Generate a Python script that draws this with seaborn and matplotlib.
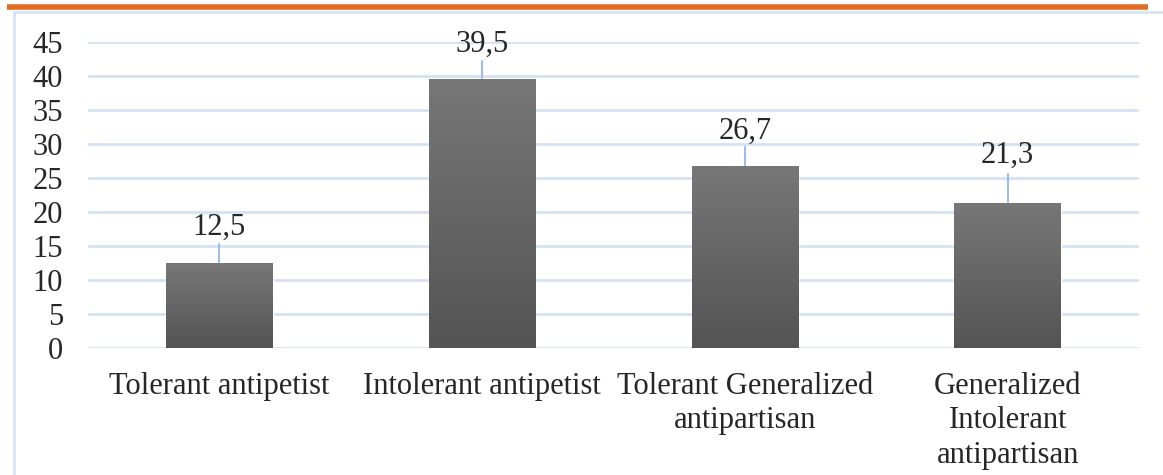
import numpy as np
import pandas as pd
import matplotlib
matplotlib.use("Agg")
import matplotlib.pyplot as plt
import seaborn as sns
from matplotlib.lines import Line2D

# data
categories = ["Tolerant antipetist", "Intolerant antipetist",
              "Tolerant Generalized\nantipartisan",
              "Generalized\nIntolerant\nantipartisan"]
values = [12.5, 39.5, 26.7, 21.3]
value_labels = ["12,5", "39,5", "26,7", "21,3"]
y_ticks = [0, 5, 10, 15, 20, 25, 30, 35, 40, 45]

# leader line length and label gap above the bar (data units)
leader_len = [2.8, 2.7, 2.8, 4.3]
label_gap = [4.1, 4.1, 4.0, 5.9]

df = pd.DataFrame({"cat": categories, "val": values})

sns.set_style("white")
plt.rcParams["font.family"] = ["Liberation Serif", "DejaVu Serif"]

grid_col = "#d5e1f3"
text_col = "#262626"
fs = 22

fig = plt.figure(figsize=(11.63, 4.75), dpi=100)
ax = fig.add_axes([88 / 1163, 1 - 348 / 475, (1139 - 88) / 1163, (348 - 42) / 475])

sns.barplot(data=df, x="cat", y="val", color="#606060", width=0.405, ax=ax,
            saturation=1, zorder=3)

ax.set_ylim(0, 45)
ax.set_xlim(-0.5, 3.5)
ax.set_yticks(y_ticks)
ax.set_yticklabels([str(t) for t in y_ticks])
ax.yaxis.grid(True, color=grid_col, linewidth=2, zorder=0)
ax.set_axisbelow(True)
for s in ax.spines.values():
    s.set_visible(False)
ax.tick_params(axis="both", length=0, labelsize=fs, colors=text_col)
ax.tick_params(axis="y", pad=18)
ax.tick_params(axis="x", pad=17)
ax.set_xlabel("")
ax.set_ylabel("")
for lbl in ax.get_xticklabels():
    lbl.set_linespacing(1.25)

# vertical gradient fill on the bars
grad = np.linspace(0, 1, 256).reshape(-1, 1)
cmap = matplotlib.colors.LinearSegmentedColormap.from_list("g", ["#545454", "#777777"])
for p in ax.patches:
    x0, y0 = p.get_x(), p.get_y()
    w, h = p.get_width(), p.get_height()
    im = ax.imshow(grad, extent=[x0, x0 + w, y0, y0 + h], origin="lower",
                   aspect="auto", cmap=cmap, zorder=4)
    im.set_clip_path(p)
ax.set_xlim(-0.5, 3.5)
ax.set_ylim(0, 45)

# data labels with leader lines
for i, v in enumerate(values):
    ax.plot([i, i], [v, v + leader_len[i]], color="#9dbde6", linewidth=1.5, zorder=2)
    ax.text(i, v + label_gap[i], value_labels[i], ha="center", va="baseline",
            fontsize=fs, color=text_col)

# orange rule and chart frame on the page
fig.add_artist(Line2D([7 / 1163, 1148 / 1163], [1 - 6.5 / 475, 1 - 6.5 / 475],
                      color="#e36c24", linewidth=4, solid_capstyle="butt"))
fig.add_artist(Line2D([14 / 1163, 1.0], [1 - 12 / 475, 1 - 12 / 475],
                      color=grid_col, linewidth=1.8))
fig.add_artist(Line2D([14 / 1163, 14 / 1163], [0, 1 - 12 / 475],
                      color=grid_col, linewidth=1.8))

fig.savefig("out.png", dpi=100)
